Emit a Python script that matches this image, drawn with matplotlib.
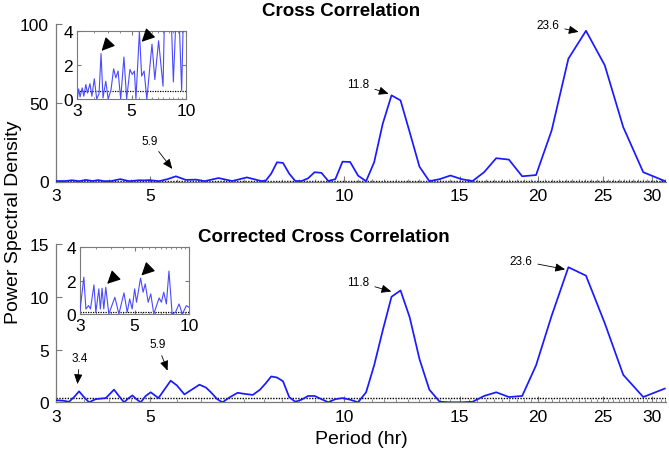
import numpy as np
import matplotlib
matplotlib.use('Agg')
import matplotlib.pyplot as plt
from matplotlib.ticker import FixedLocator, NullFormatter

plt.rcParams['font.family'] = ['Liberation Sans', 'DejaVu Sans']

# periodes (h) de la grille de Fourier, partie droite (k = 50 ... 12)
grid_period = [7.55, 7.70, 7.86, 8.03, 8.21, 8.39, 8.58, 8.78, 8.99, 9.21,
               9.44, 9.68, 9.93, 10.20, 10.49, 10.79, 11.10, 11.44, 11.80, 12.18,
               12.58, 13.02, 13.48, 13.98, 14.52, 15.10, 15.73, 16.41, 17.16, 17.98,
               18.88, 19.87, 20.97, 22.21, 23.59, 25.17, 26.96, 29.04, 31.46]

# panneau du haut : cross correlation
top_left_period = [3.0, 3.16, 3.27, 3.40, 3.53, 3.66, 3.77, 3.90, 4.05, 4.25, 4.46, 4.71,
                   4.84, 4.98, 5.16, 5.32, 5.48, 5.68, 5.89, 6.07, 6.38, 6.70, 7.06, 7.43]
top_left_psd = [0.3, 0.3, 0.8, 0.2, 1.0, 0.3, 0.9, 0.2, 0.3, 1.5, 0.2, 0.8,
                0.7, 0.9, 0.2, 1.5, 3.3, 1.0, 1.2, 0.2, 2.2, 0.3, 2.6, 0.3]
top_grid_psd = [0.5, 5.0, 12.2, 11.8, 5.0, 0.3, 0.3, 2.0, 5.9, 5.5,
                0.3, 1.5, 12.6, 12.4, 3.7, 0.2, 12.2, 36.6, 54.7, 51.5,
                31.3, 9.4, 0.2, 1.5, 3.8, 1.5, 0.3, 5.9, 14.8, 13.9,
                3.3, 4.1, 32.4, 78.0, 95.7, 73.8, 34.5, 5.9, 0.3]
top_threshold = 0.5

# panneau du bas : corrected cross correlation
bot_left_period = [3.0, 3.12, 3.22, 3.31, 3.40, 3.49, 3.59, 3.72, 3.93, 4.02, 4.11, 4.22,
                   4.34, 4.45, 4.54, 4.64, 4.75, 4.88, 5.01, 5.15, 5.26, 5.38, 5.50, 5.65,
                   5.80, 5.96, 6.10, 6.21, 6.35, 6.47, 6.65, 6.83, 7.00, 7.21, 7.40]
bot_left_psd = [0.2, 0.15, 0.05, 0.5, 1.04, 0.5, 0.0, 0.3, 0.4, 0.8, 1.2, 0.6,
                0.0, 0.4, 0.65, 0.3, 0.0, 0.6, 0.95, 0.4, 1.2, 2.05, 1.6, 0.75,
                1.2, 1.67, 1.4, 0.95, 0.3, 0.0, 0.5, 0.9, 0.8, 0.7, 1.2]
bot_grid_psd = [1.8, 2.45, 2.35, 2.0, 0.5, 0.05, 0.25, 0.6, 0.6, 0.3,
                0.0, 0.3, 0.4, 0.25, 0.0, 0.95, 3.5, 6.8, 10.0, 10.6,
                8.05, 4.1, 1.2, 0.05, 0.0, 0.0, 0.05, 0.6, 0.95, 0.5,
                0.6, 3.5, 8.2, 12.8, 12.0, 7.5, 2.6, 0.5, 1.3]
bot_threshold = 0.42

# encarts (zoom 3-10 h)
top_inset_period = [3.0, 3.04, 3.08, 3.14, 3.19, 3.25, 3.30, 3.38, 3.44, 3.52, 3.60, 3.68,
                    3.75, 3.82, 3.92, 4.01, 4.12, 4.22, 4.31, 4.40, 4.51, 4.65, 4.77, 4.92,
                    5.04, 5.18, 5.28, 5.52, 5.68, 5.86, 6.07, 6.48, 6.72, 7.05, 7.46, 7.86,
                    8.21, 8.51, 8.78, 9.07, 9.46, 9.68, 9.93, 10.2]
top_inset_psd = [0.0, 0.59, 0.12, 0.65, 0.16, 0.85, 0.35, 0.9, 0.16, 1.18, 0.0, 0.3,
                 2.66, 0.06, 1.04, 0.0, 0.55, 1.77, 1.24, 1.64, 0.0, 2.46, 0.0, 1.73,
                 1.44, 1.64, 0.0, 3.94, 1.34, 1.64, 0.0, 3.21, 1.14, 3.41, 0.75, 12.2,
                 6.0, 1.0, 4.5, 6.0, 0.5, 5.0, 12.6, 12.4]
bot_inset_period = [3.0, 3.11, 3.17, 3.25, 3.31, 3.42, 3.48, 3.58, 3.63, 3.69, 3.75, 3.82,
                    3.93, 4.16, 4.32, 4.53, 4.67, 4.78, 4.89, 5.01, 5.13, 5.40, 5.58, 5.73,
                    5.95, 6.15, 6.39, 6.84, 7.04, 7.25, 7.50, 7.75, 8.07, 8.42, 8.81, 9.19,
                    9.67, 10.0]
bot_inset_psd = [0.2, 2.2, 0.3, 0.5, 0.3, 1.74, 0.1, 1.5, 0.3, 1.54, 0.3, 1.6,
                 0.0, 1.0, 0.0, 1.26, 0.1, 0.9, 0.3, 1.5, 0.7, 2.14, 1.3, 1.8,
                 0.7, 1.2, 0.0, 0.96, 0.7, 1.3, 0.6, 2.56, 0.0, 0.1, 0.6, 0.0,
                 0.5, 0.4]
top_inset_thr = 0.49
bot_inset_thr = 0.14

# axe des periodes : echelle log par morceaux calee sur les graduations
main_anchor_p = [2, 3, 5, 10, 15, 20, 25, 30, 40]
main_anchor_x = [-74.6, 0, 94, 288, 403, 481, 546, 595, 672.3]
inset_anchor_p = [2, 3, 5, 10, 20]
inset_anchor_x = [-0.397, 0, 0.5, 1.0, 1.5]


def period_scale(anchor_p, anchor_x):
    lp = np.log(anchor_p)

    def fwd(p):
        p = np.clip(np.asarray(p, dtype=float), 1e-3, None)
        return np.interp(np.log(p), lp, anchor_x)

    def inv(u):
        return np.exp(np.interp(u, anchor_x, lp))
    return fwd, inv


BLUE = '#1a1aff'
GRAY = '#7a7a7a'


def main_panel(ax, period, psd, thr, ymax, yticks):
    ax.set_xscale('function', functions=period_scale(main_anchor_p, main_anchor_x))
    ax.plot(period, psd, color=BLUE, lw=1.25, zorder=3)
    ax.axhline(thr, color='k', ls=(0, (1, 1)), lw=1.0, zorder=2)
    ax.set_xlim(3, 31.6)
    ax.set_ylim(0, ymax)
    ax.set_yticks(yticks)
    ax.xaxis.set_major_locator(FixedLocator([3, 5, 10, 15, 20, 25, 30]))
    ax.xaxis.set_major_formatter(plt.FuncFormatter(lambda v, p: '%d' % round(v)))
    ax.xaxis.set_minor_locator(FixedLocator(np.arange(3, 32, 0.5)))
    ax.xaxis.set_minor_formatter(NullFormatter())
    for s in ['top', 'right']:
        ax.spines[s].set_visible(False)
    for s in ['left', 'bottom']:
        ax.spines[s].set_color(GRAY)
        ax.spines[s].set_linewidth(0.9)
    ax.tick_params(which='major', direction='in', length=4, color=GRAY, labelsize=12.5, pad=5)
    ax.tick_params(which='minor', direction='in', length=2, color=GRAY)


def inset_panel(ax, period, psd, thr):
    ax.set_xscale('function', functions=period_scale(inset_anchor_p, inset_anchor_x))
    ax.plot(period, psd, color='#4a4aff', lw=0.8, zorder=3)
    ax.axhline(thr, color='k', ls=(0, (1, 1)), lw=0.9, zorder=2)
    ax.set_xlim(3, 10)
    ax.set_ylim(0, 4)
    ax.set_yticks([0, 2, 4])
    ax.xaxis.set_major_locator(FixedLocator([3, 5, 10]))
    ax.xaxis.set_major_formatter(plt.FuncFormatter(lambda v, p: '%d' % round(v)))
    ax.xaxis.set_minor_locator(FixedLocator(np.arange(3, 10, 0.5)))
    ax.xaxis.set_minor_formatter(NullFormatter())
    for s in ax.spines.values():
        s.set_color(GRAY)
        s.set_linewidth(0.8)
    ax.tick_params(which='both', direction='in', top=True, right=True, color=GRAY)
    ax.tick_params(which='major', length=3, labelsize=12.5, pad=3)
    ax.tick_params(which='minor', length=1.5)


def arrow(ax, text, tip, tail, fs=8.5):
    ax.annotate(text, xy=tip, xytext=tail, fontsize=fs, ha='center', va='center',
                arrowprops=dict(arrowstyle='-|>,head_length=0.7,head_width=0.3',
                                color='k', lw=0.6, shrinkA=2, shrinkB=0))


def head(ax, tip, tail):
    # pointe de fleche seule (encarts)
    ax.annotate('', xy=tip, xytext=tail,
                arrowprops=dict(arrowstyle='-|>,head_length=0.8,head_width=0.4',
                                color='k', lw=0.8, mutation_scale=10,
                                shrinkA=0, shrinkB=0), zorder=5)


fig = plt.figure(figsize=(6.69, 4.52), dpi=100)

ax1 = fig.add_axes([56 / 669, 1 - 182.5 / 452, 610 / 669, 157.5 / 452])
main_panel(ax1, top_left_period + grid_period, top_left_psd + top_grid_psd,
           top_threshold, 100, [0, 50, 100])
arrow(ax1, '5.9', (5.41, 8), (5.0, 26))
arrow(ax1, '11.8', (11.68, 55.7), (10.5, 62))
arrow(ax1, '23.6', (23.0, 95), (20.7, 99.2))

ax2 = fig.add_axes([56 / 669, 1 - 403.3 / 452, 610 / 669, 158.3 / 452])
main_panel(ax2, bot_left_period + grid_period, bot_left_psd + bot_grid_psd,
           bot_threshold, 15, [0, 5, 10, 15])
arrow(ax2, '3.4', (3.37, 1.73), (3.41, 4.2))
arrow(ax2, '5.9', (5.32, 3.0), (5.13, 5.5))
arrow(ax2, '11.8', (11.79, 10.5), (10.5, 11.4))
arrow(ax2, '23.6', (21.96, 12.6), (18.8, 13.4))

ins1 = fig.add_axes([77.3 / 669, 1 - 100 / 452, 108.7 / 669, 68.3 / 452])
inset_panel(ins1, top_inset_period, top_inset_psd, top_inset_thr)
head(ins1, (3.77, 2.82), (3.99, 3.20))
head(ins1, (5.68, 3.35), (6.17, 3.73))

ins2 = fig.add_axes([80 / 669, 1 - 315 / 452, 109 / 669, 67 / 452])
inset_panel(ins2, bot_inset_period, bot_inset_psd, bot_inset_thr)
head(ins2, (3.87, 1.8), (4.12, 2.19))
head(ins2, (5.46, 2.3), (5.94, 2.69))

fig.text(341 / 669, 1 - 11 / 452, 'Cross Correlation', ha='center', va='center',
         fontsize=13.5, fontweight='bold')
fig.text(324 / 669, 1 - 238 / 452, 'Corrected Cross Correlation', ha='center', va='center',
         fontsize=13.5, fontweight='bold')
fig.text(14 / 669, 1 - 222 / 452, 'Power Spectral Density', rotation=90,
         ha='center', va='center', fontsize=14)
fig.text(361 / 669, 1 - 440 / 452, 'Period (hr)', ha='center', va='center', fontsize=14)

fig.savefig('out.png', dpi=100)
